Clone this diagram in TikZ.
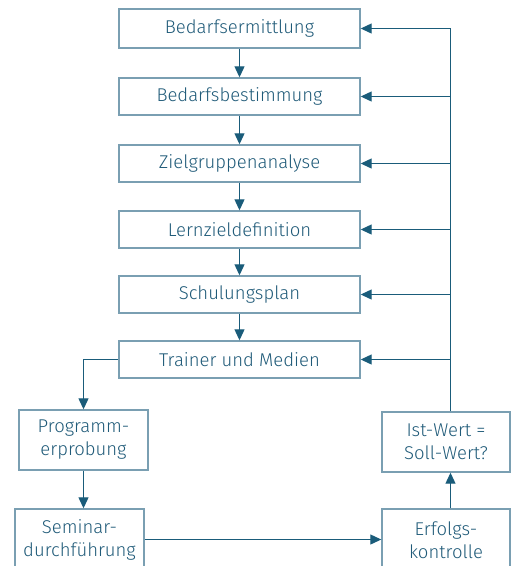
\documentclass[tikz,border=0pt]{standalone}
\usepackage{fontspec}
\setmainfont{Fira Sans Light}
\usetikzlibrary{arrows.meta}
\definecolor{txt}{HTML}{1F5A78}
\definecolor{ln}{HTML}{1A5C7A}
\definecolor{bd}{HTML}{7A9FB2}
\begin{document}
\begin{tikzpicture}[x=1pt,y=-1pt,
  box/.style={draw=bd,line width=1.4pt,text=txt,font=\fontsize{18.5}{23}\selectfont,inner sep=0pt,align=center},
  conn/.style={draw=ln,line width=1.1pt,-{Triangle[length=11pt,width=10pt]}},
  plain/.style={draw=ln,line width=1.1pt}]
\useasboundingbox (0,0) rectangle (511,566);
\clip (0,0) rectangle (511,566);
\node[box,minimum width=241pt,minimum height=39pt] (b1) at (239.5,28.5) {Bedarfsermittlung};
\node[box,minimum width=241pt,minimum height=37pt] (b2) at (239.5,96.5) {Bedarfsbestimmung};
\node[box,minimum width=241pt,minimum height=37pt] (b3) at (239.5,163.5) {Zielgruppenanalyse};
\node[box,minimum width=241pt,minimum height=37pt] (b4) at (239.5,229.5) {Lernzieldefinition};
\node[box,minimum width=241pt,minimum height=37pt] (b5) at (239.5,294.5) {Schulungsplan};
\node[box,minimum width=241pt,minimum height=37pt] (b6) at (239.5,359.5) {Trainer und Medien};
\node[box,minimum width=129pt,minimum height=60pt] (p) at (83.5,440) {Programm-\\erprobung};
\node[box,minimum width=129pt,minimum height=62pt] (s) at (79.5,540) {Seminar-\\durchführung};
\node[box,minimum width=128pt,minimum height=60pt] (i) at (446,442) {Ist-Wert =\\Soll-Wert?};
\node[box,minimum width=128pt,minimum height=62pt] (e) at (446,540) {Erfolgs-\\kontrolle};
\coordinate (top) at (450.5,28.5);
\draw[conn] (b1) -- (b2);
\draw[conn] (b2) -- (b3);
\draw[conn] (b3) -- (b4);
\draw[conn] (b4) -- (b5);
\draw[conn] (b5) -- (b6);
\draw[conn] (b6.west) -| (p.north);
\draw[conn] (p.south) -- (p.south |- s.north);
\draw[conn] (s.east |- 0,539.5) -- (e.west |- 0,539.5);
\draw[conn] (e.north -| 450.5,0) -- (i.south -| 450.5,0);
\draw[plain] (i.north -| 450.5,0) -- (top);
\foreach \b in {b1,b2,b3,b4,b5,b6}{
  \draw[conn] (450.5,0 |- \b.east) -- (\b.east);
}
\end{tikzpicture}
\end{document}
